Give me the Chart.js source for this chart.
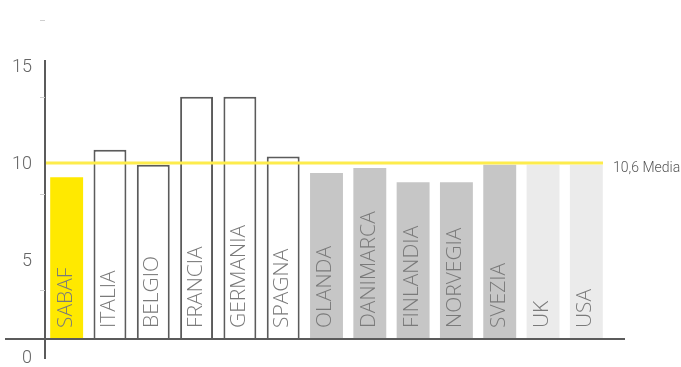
<!DOCTYPE html>
<html><head><meta charset="utf-8">
<script src="https://cdn.jsdelivr.net/npm/chart.js@4/dist/chart.umd.min.js"></script>
<style>html,body{margin:0;padding:0;background:#fff}</style>
</head><body>
<canvas id="c" width="681" height="367"></canvas>
<script>
const categories = ['SABAF','ITALIA','BELGIO','FRANCIA','GERMANIA','SPAGNA','OLANDA','DANIMARCA','FINLANDIA','NORVEGIA','SVEZIA','UK','USA'];
const values = [9.75, 11.4, 10.5, 14.6, 14.6, 11.0, 10.0, 10.3, 9.45, 9.45, 10.5, 10.5, 10.5];
const groups = ['sabaf','eu','eu','eu','eu','eu','nord','nord','nord','nord','nord','other','other'];
const mediaValue = 10.6;
const mediaLabel = '10,6 Media';
const axisTickValues = [0, 5, 10, 15];
const axisMinorTicks = [3.5, 8.5, 13.5, 17.5];

const fillByGroup = {sabaf:'#ffe900', eu:'#ffffff', nord:'#c6c6c6', other:'#ebebeb'};
const borderByGroup = {sabaf:0, eu:2, nord:0, other:0};

const overlay = {
  id: 'overlay',
  afterDatasetsDraw(chart) {
    const ctx = chart.ctx, y = chart.scales.y, yl = chart.scales.yl, a = chart.chartArea;
    const meta = chart.getDatasetMeta(0);
    const base = y.getPixelForValue(0);
    ctx.save();
    ctx.font = '300 21px "Open Sans"';
    ctx.fillStyle = '#7a7a7a';
    ctx.textAlign = 'left';
    ctx.textBaseline = 'middle';
    meta.data.forEach((bar, i) => {
      ctx.save();
      ctx.translate(bar.x - 1, base - 11);
      ctx.rotate(-Math.PI / 2);
      ctx.fillText(categories[i], 0, 0);
      ctx.restore();
    });
    ctx.restore();
    ctx.save();
    ctx.strokeStyle = '#cfcfcf';
    ctx.lineWidth = 1;
    axisMinorTicks.forEach(v => {
      const py = Math.round(yl.getPixelForValue(v)) + 0.5;
      ctx.beginPath(); ctx.moveTo(a.left - 5, py); ctx.lineTo(a.left, py); ctx.stroke();
    });
    ctx.restore();
    ctx.save();
    ctx.strokeStyle = '#5b5b5b';
    ctx.lineWidth = 2;
    ctx.beginPath(); ctx.moveTo(5, base); ctx.lineTo(a.right + 17, base); ctx.stroke();
    const my = y.getPixelForValue(mediaValue);
    ctx.strokeStyle = '#fdec4c';
    ctx.lineWidth = 3;
    ctx.beginPath(); ctx.moveTo(a.left + 1, my); ctx.lineTo(a.right - 5, my); ctx.stroke();
    ctx.font = '300 14px Roboto';
    ctx.fillStyle = '#555555';
    ctx.textAlign = 'left';
    ctx.textBaseline = 'middle';
    ctx.fillText(mediaLabel, a.right + 5, my + 5);
    ctx.restore();
  }
};

new Chart(document.getElementById('c'), {
  type: 'bar',
  data: {
    labels: categories,
    datasets: [{
      data: values,
      yAxisID: 'y',
      backgroundColor: groups.map(g => fillByGroup[g]),
      borderColor: '#5b5b5b',
      borderWidth: groups.map(g => borderByGroup[g]),
      borderSkipped: 'bottom',
      barPercentage: 0.76,
      categoryPercentage: 1
    }]
  },
  options: {
    responsive: false,
    animation: false,
    layout: {padding: {top: 61, right: 73, bottom: 9, left: 0}},
    plugins: {legend: {display: false}, tooltip: {enabled: false}},
    scales: {
      x: {display: false, offset: true},
      y: {display: false, min: -1.145, max: 16.75},
      yl: {
        position: 'left',
        min: 0, max: 15.36,
        afterBuildTicks: s => { s.ticks = axisTickValues.map(v => ({value: v})); },
        afterFit: s => { s.width = 45; s.paddingTop = 9; s.paddingBottom = 9; },
        grid: {display: false, drawTicks: false},
        border: {display: true, color: '#5b5b5b', width: 2},
        ticks: {padding: 13, color: '#666666', font: {family: 'Roboto', weight: '300', size: 18, lineHeight: 1}}
      }
    }
  },
  plugins: [overlay]
});
</script>
</body></html>
